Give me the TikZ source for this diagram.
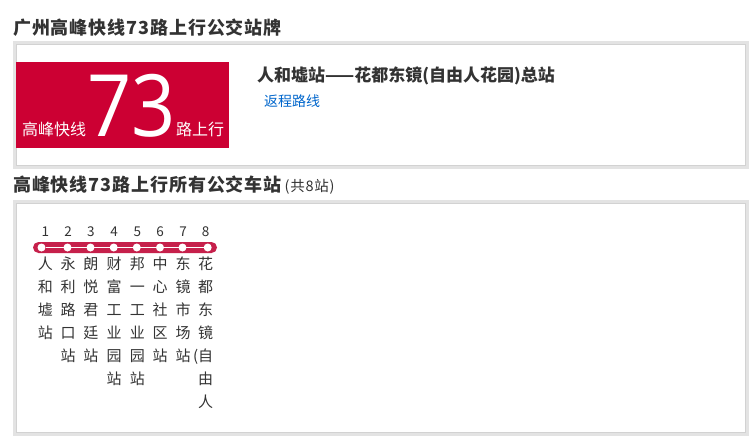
\documentclass[tikz,border=0pt]{standalone}
\usepackage{fontspec}
\usepackage{graphicx}
\setmainfont{Noto Sans CJK SC}
\newfontfamily\headfont[LetterSpace=5]{Noto Sans CJK SC}
\newfontfamily\bigdigits{Open Sans}
\definecolor{framegrey}{HTML}{E3E3E3}
\definecolor{frameline}{HTML}{D2D2D2}
\definecolor{signred}{HTML}{CC0033}
\definecolor{barred}{HTML}{C6204B}
\definecolor{txtgrey}{HTML}{333333}
\definecolor{linkblue}{HTML}{0066CC}
\tikzset{
  heading/.style={anchor=west,inner sep=0pt,text=txtgrey,font=\headfont\fontsize{18}{20}\selectfont\bfseries},
  stnum/.style={inner sep=0pt,text=txtgrey,font=\fontsize{13.5}{15}\selectfont},
  stname/.style={anchor=north,inner sep=0pt,text=txtgrey,align=center,font=\fontsize{15}{23}\selectfont},
  redtxt/.style={anchor=west,inner sep=0pt,text=white,font=\fontsize{16}{18}\selectfont},
  dot/.style={circle,fill=white,inner sep=0pt,minimum size=8pt}
}
\begin{document}
\begin{tikzpicture}[x=1pt,y=-1pt]
\useasboundingbox (0,0) rectangle (755,436);
\fill[white] (0,0) rectangle (755,436);
% title
\node[heading] (title) at (13,27.5) {广州高峰快线73路上行公交站牌};
% box 1
\fill[framegrey] (13,41) rectangle (749,169);
\fill[white] (16,44) rectangle (746,166);
\draw[frameline] (16.5,44.5) rectangle (745.5,165.5);
\fill[signred] (16,62) rectangle (229,148);
\node[redtxt] (lbl1) at (22,129.5) {高峰快线};
\node[anchor=base west,inner sep=0pt,text=white,font=\bigdigits\fontsize{86}{90}\selectfont] (num) at (87,136.5) {\scalebox{0.9}[1]{73}};
\node[redtxt] (lbl2) at (176,129.5) {路上行};
\node[anchor=west,inner sep=0pt,text=txtgrey,font=\fontsize{17}{18}\selectfont\bfseries] (route) at (257,75.5) {人和墟站——花都东镜(自由人花园)总站};
\node[anchor=west,inner sep=0pt,text=linkblue,font=\fontsize{14}{16}\selectfont] (back) at (264,101.5) {返程路线};
% heading 2
\node[heading] (head2) at (13,185.5) {高峰快线73路上行所有公交车站\,{\mdseries\fontsize{14.5}{16}\selectfont(共8站)}};
% box 2
\fill[framegrey] (13,200) rectangle (749,436);
\fill[white] (16,203) rectangle (746,433);
\draw[frameline] (16.5,203.5) rectangle (745.5,432.5);
% line
\fill[barred,rounded corners=5.5pt] (33,242) rectangle (217,253);
\foreach \i/\x/\dx in {1/45.3/41.5,2/68/67.5,3/90.8/90.5,4/114/113.7,5/137.3/136.8,6/160/160,7/183/182.5,8/205.7/207.7}{
  \node[stnum] (n\i) at (\x,231.5) {\i};
  \node[dot] (d\i) at (\dx,247.5) {};
}
\draw[white,line width=1.5pt] (d1) -- (d8);
\node[stname] (s1) at (45.3,257) {人\\和\\墟\\站};
\node[stname] (s2) at (68,257) {永\\利\\路\\口\\站};
\node[stname] (s3) at (90.8,257) {朗\\悦\\君\\廷\\站};
\node[stname] (s4) at (114,257) {财\\富\\工\\业\\园\\站};
\node[stname] (s5) at (137.3,257) {邦\\一\\工\\业\\园\\站};
\node[stname] (s6) at (160,257) {中\\心\\社\\区\\站};
\node[stname] (s7) at (183,257) {东\\镜\\市\\场\\站};
\node[stname] (s8) at (205.7,257) {花\\都\\东\\镜\\\makebox[0pt][r]{(}自\\由\\人};
\end{tikzpicture}
\end{document}
